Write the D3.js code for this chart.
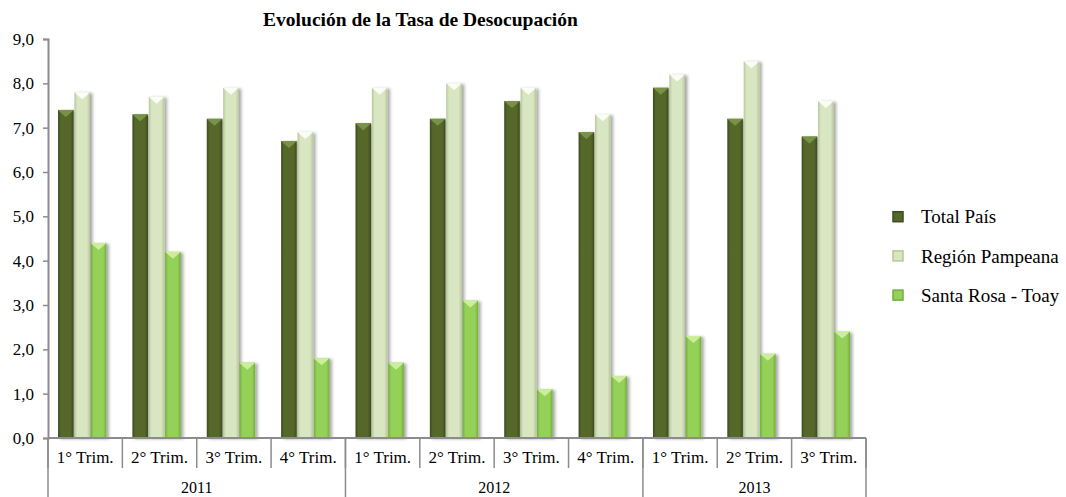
<!DOCTYPE html>
<html>
<head>
<meta charset="utf-8">
<script src="https://cdn.jsdelivr.net/npm/d3@7/dist/d3.min.js"></script>
<style>
  html, body { margin: 0; padding: 0; background: #ffffff; }
  svg { display: block; }
  text { font-family: "Liberation Serif", "Times New Roman", serif; fill: #000; }
</style>
</head>
<body>
<svg id="chart" width="1066" height="497"></svg>
<script>
// ---- Data ----
const title = "Evolución de la Tasa de Desocupación";
const quarters = ["1° Trim.", "2° Trim.", "3° Trim.", "4° Trim.", "1° Trim.", "2° Trim.", "3° Trim.", "4° Trim.", "1° Trim.", "2° Trim.", "3° Trim."];
const years = ["2011", "2012", "2013"];
const quartersPerYear = [4, 4, 3];
const seriesNames = ["Total País", "Región Pampeana", "Santa Rosa - Toay"];
const totalPais = [7.4, 7.3, 7.2, 6.7, 7.1, 7.2, 7.6, 6.9, 7.9, 7.2, 6.8];
const regionPampeana = [7.8, 7.7, 7.9, 6.9, 7.9, 8.0, 7.9, 7.3, 8.2, 8.5, 7.6];
const santaRosaToay = [4.4, 4.2, 1.7, 1.8, 1.7, 3.1, 1.1, 1.4, 2.3, 1.9, 2.4];
const yTicks = [0, 1, 2, 3, 4, 5, 6, 7, 8, 9];

const seriesValues = [totalPais, regionPampeana, santaRosaToay];
const colors = [
  { edge: "#3b4b1c", mid: "#54672b", cap: "#7f9a4c" },
  { edge: "#b7c79a", mid: "#d9e6c2", cap: "#ffffff" },
  { edge: "#74ad3c", mid: "#94d158", cap: "#d6f2a8" }
];

// ---- Layout ----
const svg = d3.select("#chart");
const plotL = 48, plotR = 866, plotT = 39, plotB = 438;

const y = d3.scaleLinear().domain([0, 9]).range([plotB, plotT]);
const cats = d3.range(quarters.length);
const x = d3.scaleBand().domain(cats).range([plotL, plotR]).paddingInner(0).paddingOuter(0);
const bw = x.bandwidth();
const x1 = d3.scaleBand().domain(d3.range(3)).range([bw * 0.135, bw * 0.785]).paddingInner(0.05);

// defs: gradients & shadow
const defs = svg.append("defs");
colors.forEach((c, i) => {
  const g = defs.append("linearGradient").attr("id", "grad" + i)
    .attr("x1", "0%").attr("x2", "100%").attr("y1", "0%").attr("y2", "0%");
  g.append("stop").attr("offset", "0%").attr("stop-color", c.edge);
  g.append("stop").attr("offset", "18%").attr("stop-color", c.mid);
  g.append("stop").attr("offset", "80%").attr("stop-color", c.mid);
  g.append("stop").attr("offset", "100%").attr("stop-color", c.edge);
});
const f = defs.append("filter").attr("id", "shadow").attr("x", "-30%").attr("y", "-10%").attr("width", "170%").attr("height", "120%");
f.append("feDropShadow").attr("dx", 2.5).attr("dy", 1).attr("stdDeviation", 1.5)
  .attr("flood-color", "#000").attr("flood-opacity", 0.35);

// title
svg.append("text").attr("x", 420.5).attr("y", 26).attr("text-anchor", "middle")
  .style("font-weight", "bold").style("font-size", "19.5px").text(title);

// y axis
const yAxis = d3.axisLeft(y).tickValues(yTicks).tickSize(5).tickPadding(9)
  .tickFormat(d => d3.format(".1f")(d).replace(".", ","));
const ya = svg.append("g").attr("transform", `translate(${plotL},0)`).call(yAxis);
ya.select(".domain").attr("stroke", "#8c8c8c").attr("stroke-width", 2);
ya.selectAll(".tick line").attr("stroke", "#8c8c8c").attr("stroke-width", 1.5);
ya.selectAll(".tick text").style("font-family", "'Liberation Serif', serif").style("font-size", "17px").attr("fill", "#000");

// bars
const groups = svg.append("g").selectAll("g").data(cats).join("g")
  .attr("transform", d => `translate(${x(d)},0)`);
seriesValues.forEach((vals, s) => {
  groups.append("rect")
    .attr("x", x1(s)).attr("width", x1.bandwidth())
    .attr("y", d => y(vals[d])).attr("height", d => y(0) - y(vals[d]))
    .attr("fill", `url(#grad${s})`).attr("filter", "url(#shadow)");
  groups.append("path")
    .attr("d", d => {
      const x0 = x1(s), w = x1.bandwidth(), t = y(vals[d]);
      return `M${x0},${t} L${x0 + w},${t} L${x0 + w - 2},${t + 2} L${x0 + w / 2},${t + 7} L${x0 + 2},${t + 2} Z`;
    })
    .attr("fill", colors[s].cap).attr("opacity", 0.85);
});

// x axis
const axisColor = "#8c8c8c";
svg.append("line").attr("x1", plotL).attr("x2", plotR).attr("y1", plotB).attr("y2", plotB)
  .attr("stroke", axisColor).attr("stroke-width", 2);
const edgeX = i => i < quarters.length ? x(i) : plotR;
svg.append("g").selectAll("line").data(d3.range(quarters.length + 1)).join("line")
  .attr("x1", edgeX).attr("x2", edgeX)
  .attr("y1", plotB).attr("y2", plotB + 30)
  .attr("stroke", axisColor).attr("stroke-width", 1.5);
svg.append("g").selectAll("text").data(cats).join("text")
  .attr("x", d => x(d) + bw / 2).attr("y", 463).attr("text-anchor", "middle")
  .style("font-size", "17px").text(d => quarters[d]);
const yearStarts = quartersPerYear.map((n, i) => d3.sum(quartersPerYear.slice(0, i)));
const yearBounds = yearStarts.map((s, i) => [s, s + quartersPerYear[i]]);
const yearEdges = yearStarts.concat([quarters.length]);
svg.append("g").selectAll("line").data(yearEdges).join("line")
  .attr("x1", edgeX).attr("x2", edgeX)
  .attr("y1", plotB).attr("y2", 497)
  .attr("stroke", axisColor).attr("stroke-width", 1.5);
svg.append("g").selectAll("text").data(yearBounds).join("text")
  .attr("x", b => (edgeX(b[0]) + edgeX(b[1])) / 2).attr("y", 492.5).attr("text-anchor", "middle")
  .style("font-size", "16px").text((b, i) => years[i]);

// legend
const legend = svg.append("g").selectAll("g").data(seriesNames).join("g")
  .attr("transform", (d, i) => `translate(893,${216.7 + i * 39.2})`);
legend.append("rect").attr("x", 0).attr("y", -5).attr("width", 10).attr("height", 10)
  .attr("fill", (d, i) => colors[i].mid).attr("stroke", (d, i) => colors[i].edge).attr("stroke-width", 1.5);
legend.append("text").attr("x", 28).attr("y", 0).attr("dy", "0.35em")
  .style("font-size", "19px").text(d => d);
</script>
</body>
</html>
